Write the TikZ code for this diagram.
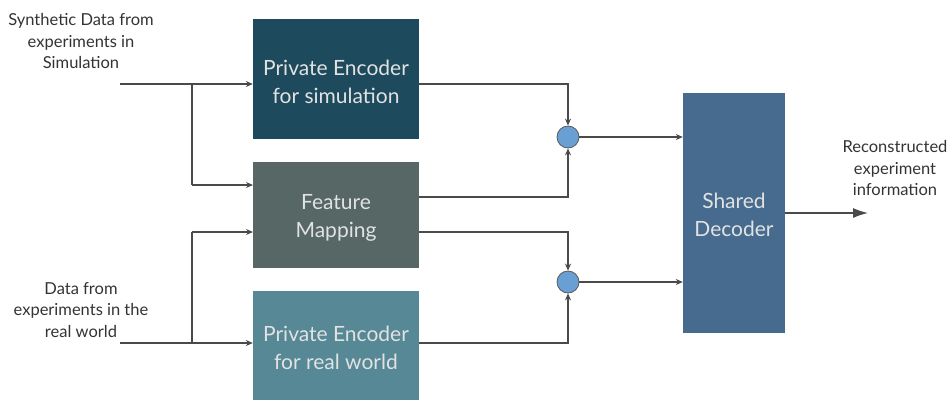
\documentclass[tikz,border=0pt]{standalone}
\usepackage{fontspec}
\setmainfont{Lato}
\usetikzlibrary{arrows.meta,calc}
\definecolor{encsim}{HTML}{1D4A5C}
\definecolor{featmap}{HTML}{566766}
\definecolor{encreal}{HTML}{568896}
\definecolor{decoder}{HTML}{466B8E}
\definecolor{sumfill}{HTML}{6A9FD4}
\definecolor{wire}{HTML}{4A4A4A}
\definecolor{labeltext}{HTML}{333333}
\definecolor{boxtext}{HTML}{E2E2E2}
\tikzset{
  block/.style={rectangle, draw=none, minimum width=166pt, inner sep=0pt},
  blocktext/.style={text=boxtext, font=\fontsize{21}{28.5}\selectfont, align=center, inner sep=0pt},
  sumnode/.style={circle, fill=sumfill, draw=gray!70!black, line width=0.8pt,
    minimum size=22pt, inner sep=0pt},
  iolabel/.style={text=labeltext, font=\fontsize{16.5}{21.5}\selectfont, align=center},
  wireline/.style={draw=wire, line width=1.3pt},
  arr/.style={wireline, -{Stealth[length=7pt,width=6pt]}},
  bigarr/.style={wireline, -{Latex[length=15pt,width=10pt]}}
}
\begin{document}
\begin{tikzpicture}[x=1pt,y=-1pt]
\useasboundingbox (0,0) rectangle (947,400);

% processing blocks
\node[block, fill=encsim, minimum height=120pt] (encs) at (336,79) {};
\node[block, fill=featmap, minimum height=106pt] (feat) at (336,215) {};
\node[block, fill=encreal, minimum height=109pt] (encr) at (336,345.5) {};
\node[block, fill=decoder, minimum width=102pt, minimum height=240pt] (dec) at (734,213) {};

% block captions
\node[blocktext] (encs-t) at ($(encs.center)+(0,3)$) {Private Encoder\\for simulation};
\node[blocktext] (feat-t) at ($(feat.center)+(0,3)$) {Feature\\Mapping};
\node[blocktext] (encr-t) at ($(encr.center)+(0,2.5)$) {Private Encoder\\for real world};
\node[blocktext] (dec-t) at ($(dec.center)+(0,2)$) {Shared\\Decoder};

% summation points
\node[sumnode] (s1) at (568,137) {};
\node[sumnode] (s2) at (568,282) {};

% input / output labels
\node[iolabel] (lsim) at (81,41) {Synthetic Data from\\experiments in\\Simulation};
\node[iolabel] (lreal) at (81,310) {Data from\\experiments in the\\real world};
\node[iolabel] (lout) at (895,168) {Reconstructed\\experiment\\information};

% wire end points
\coordinate (insim) at (120,84);
\coordinate (jsim) at (192,84);
\coordinate (inreal) at (120,343);
\coordinate (jreal) at (192,343);
\coordinate (fin1) at (253,185);
\coordinate (fin2) at (253,232);
\coordinate (eout) at (419,84);
\coordinate (fout1) at (419,197);
\coordinate (fout2) at (419,232);
\coordinate (rout) at (419,343);
\coordinate (dout) at (868,213);

% inputs
\draw[arr] (insim) -- (encs.west |- insim);
\draw[wireline] (jsim) -- (jsim |- fin1);
\draw[arr] (jsim |- fin1) -- (fin1);
\draw[arr] (inreal) -- (encr.west |- inreal);
\draw[wireline] (jreal) -- (jreal |- fin2);
\draw[arr] (jreal |- fin2) -- (fin2);

% blocks to summation points
\draw[arr] (eout) -| (s1.north);
\draw[arr] (fout1) -| (s1.south);
\draw[arr] (fout2) -| (s2.north);
\draw[arr] (rout) -| (s2.south);

% summation points to decoder
\draw[arr] (s1.east) -- (dec.west |- s1);
\draw[arr] (s2.east) -- (dec.west |- s2);

% output
\draw[bigarr] (dec.east) -- (dout);
\end{tikzpicture}
\end{document}
